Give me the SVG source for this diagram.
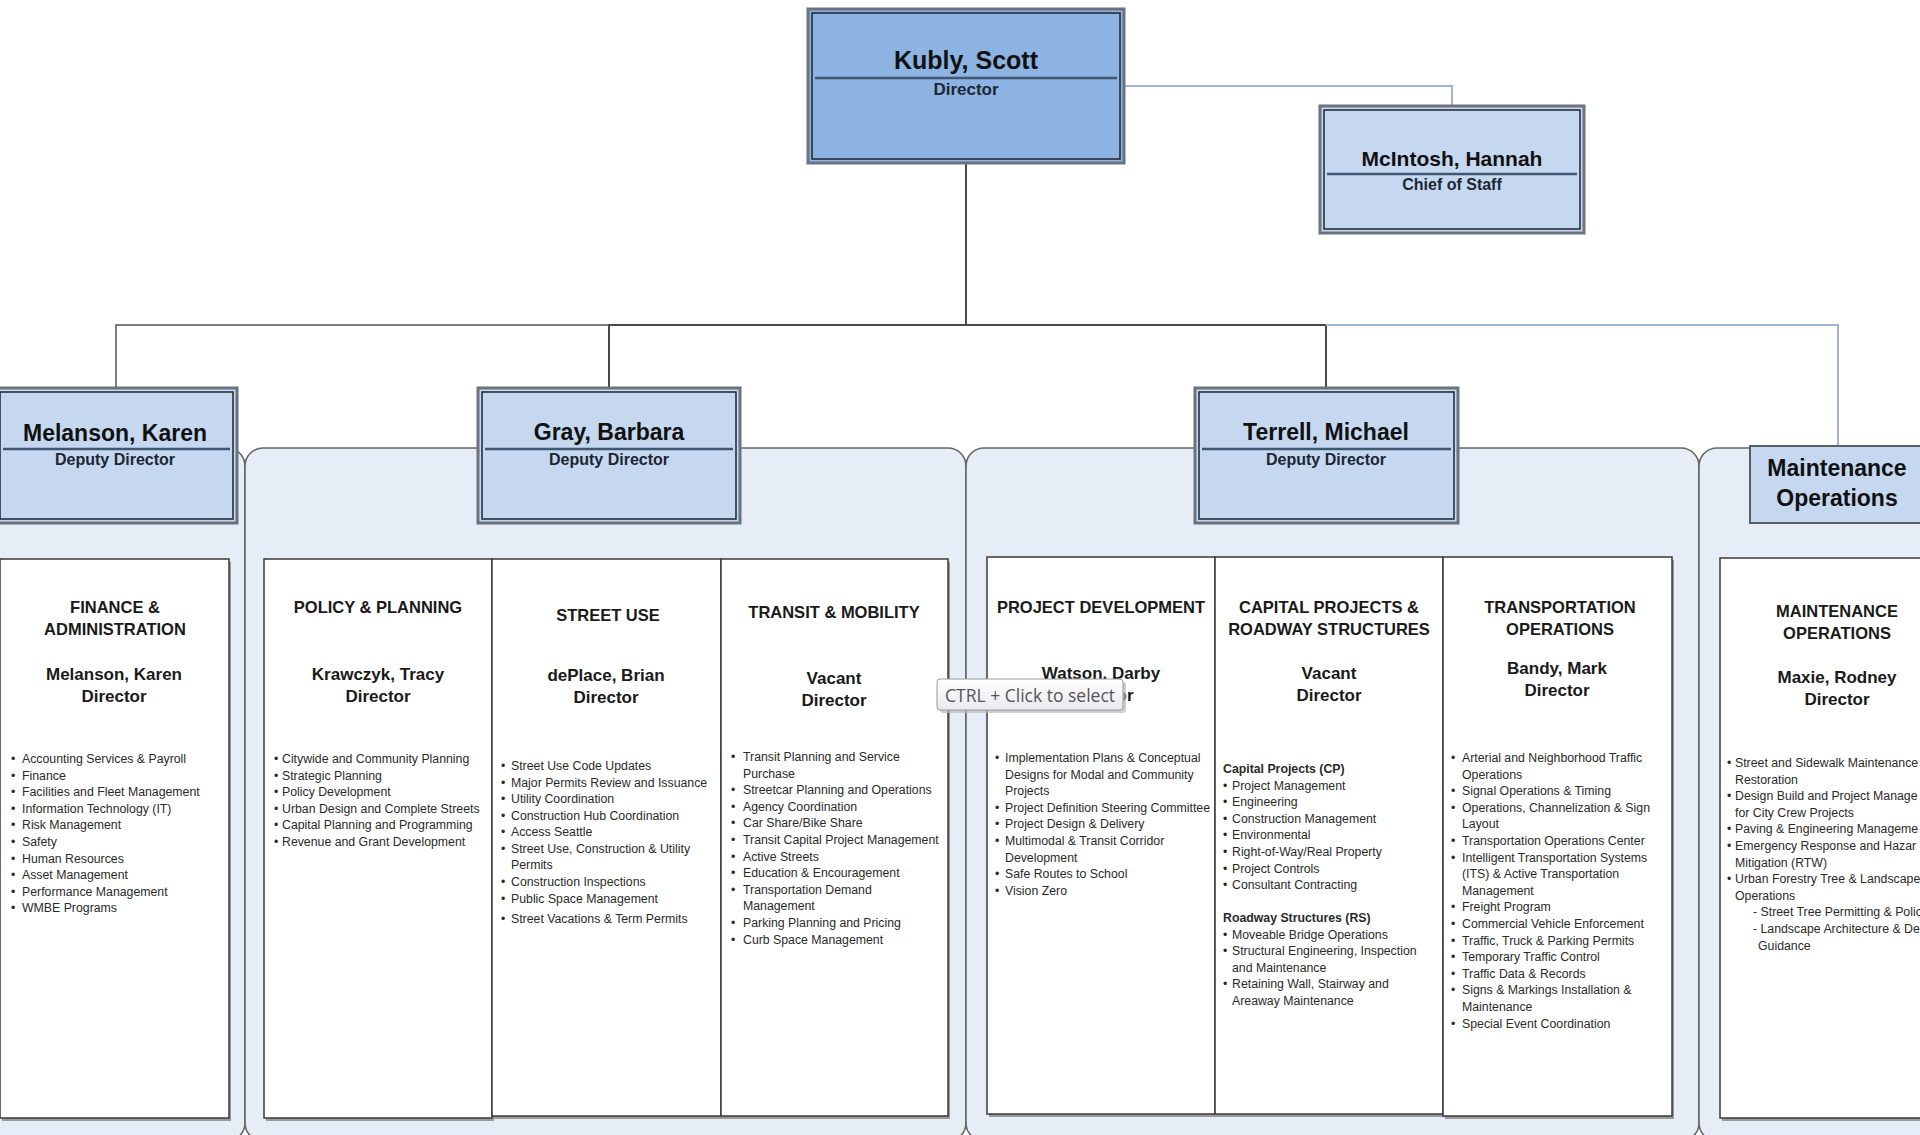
<svg xmlns="http://www.w3.org/2000/svg" width="1920" height="1135" viewBox="0 0 1920 1135">
<defs>
<style>
.bg{fill:#ffffff}
.panel{fill:#e7edf7;stroke:#676767;stroke-width:1.6}
.outer{stroke:#6b737e;stroke-width:3}
.inner{fill:none;stroke:#1b2431;stroke-width:1.5}
.dark{fill:#8db3e2}
.light{fill:#c5d8f0}
.divl{stroke:#40586f;stroke-width:2.5}
.nm{font-family:"Liberation Sans",Arial,sans-serif;font-weight:bold;font-size:23px;fill:#111;text-anchor:middle}
.sub{font-family:"Liberation Sans",Arial,sans-serif;font-weight:bold;font-size:16px;fill:#1c2633;text-anchor:middle}
.wb{fill:#ffffff;stroke:#3a3a3a;stroke-width:1.5}
.sh{fill:#9a9a9a}
.hd{font-family:"Liberation Sans",Arial,sans-serif;font-weight:bold;font-size:16.5px;fill:#1a1a1a;text-anchor:middle}
.dn{font-family:"Liberation Sans",Arial,sans-serif;font-weight:bold;font-size:17px;fill:#1a1a1a;text-anchor:middle}
.bl{font-family:"Liberation Sans",Arial,sans-serif;font-size:12.3px;fill:#2a2a2a}
.blb{font-family:"Liberation Sans",Arial,sans-serif;font-size:12.3px;font-weight:bold;fill:#2a2a2a}
.c-dark{fill:none;stroke:#4a4a4a;stroke-width:2}
.c-gray{fill:none;stroke:#7d7d7d;stroke-width:2}
.c-light{fill:none;stroke:#9fb5cb;stroke-width:2}
</style>
<linearGradient id="tipg" x1="0" y1="0" x2="0" y2="1">
<stop offset="0" stop-color="#ffffff"/>
<stop offset="1" stop-color="#e9e9ef"/>
</linearGradient>
</defs>
<rect class="bg" x="0" y="0" width="1920" height="1135"/>

<g id="panels">
<rect class="panel" x="-40" y="448" width="285" height="693" rx="18"/>
<rect class="panel" x="245" y="448" width="721" height="693" rx="18"/>
<rect class="panel" x="966" y="448" width="733" height="693" rx="18"/>
<rect class="panel" x="1699" y="448" width="280" height="693" rx="18"/>
</g>

<g id="connectors">
<path class="c-light" d="M1124,86 H1452 V106"/>
<path class="c-dark" d="M966,163 V325"/>
<path class="c-gray" d="M116,388 V325 H609"/>
<path class="c-dark" d="M609,388 V325 H1326 V388"/>
<path class="c-light" d="M1326,325 H1838 V446"/>
</g>

<g id="node-kubly">
<rect class="dark outer" x="808" y="9" width="316" height="154"/>
<rect class="inner" x="812" y="13" width="308" height="146"/>
<text class="nm" x="966" y="69" style="font-size:25px">Kubly, Scott</text>
<line class="divl" x1="815" y1="78" x2="1117" y2="78"/>
<text class="sub" x="966" y="95" style="font-size:17px">Director</text>
</g>

<g id="node-mcintosh">
<rect class="light outer" x="1320" y="106" width="264" height="127"/>
<rect class="inner" x="1324" y="110" width="256" height="119"/>
<text class="nm" x="1452" y="166" style="font-size:21px">McIntosh, Hannah</text>
<line class="divl" x1="1327" y1="174" x2="1577" y2="174"/>
<text class="sub" x="1452" y="190">Chief of Staff</text>
</g>

<g id="node-melanson">
<rect class="light outer" x="-4" y="388" width="241" height="135"/>
<rect class="inner" x="0" y="392" width="233" height="127"/>
<text class="nm" x="115" y="441">Melanson, Karen</text>
<line class="divl" x1="3" y1="449" x2="230" y2="449"/>
<text class="sub" x="115" y="465">Deputy Director</text>
</g>

<g id="node-gray">
<rect class="light outer" x="478" y="388" width="262" height="135"/>
<rect class="inner" x="482" y="392" width="254" height="127"/>
<text class="nm" x="609" y="440">Gray, Barbara</text>
<line class="divl" x1="485" y1="449" x2="733" y2="449"/>
<text class="sub" x="609" y="465">Deputy Director</text>
</g>

<g id="node-terrell">
<rect class="light outer" x="1195" y="388" width="263" height="135"/>
<rect class="inner" x="1199" y="392" width="255" height="127"/>
<text class="nm" x="1326" y="440">Terrell, Michael</text>
<line class="divl" x1="1202" y1="449" x2="1451" y2="449"/>
<text class="sub" x="1326" y="465">Deputy Director</text>
</g>

<g id="node-maintenance">
<rect class="light" x="1750" y="446" width="200" height="77" style="stroke:#5a5f66;stroke-width:2"/>
<text class="nm" x="1837" y="476">Maintenance</text>
<text class="nm" x="1837" y="506">Operations</text>
</g>

<g id="div-finance">
<rect class="sh" x="2" y="562" width="229" height="559"/>
<rect class="wb" x="0" y="559" width="229" height="559"/>
<text class="hd" x="115" y="613">FINANCE &amp;</text>
<text class="hd" x="115" y="635">ADMINISTRATION</text>
<text class="dn" x="114" y="680">Melanson, Karen</text>
<text class="dn" x="114" y="702">Director</text>
<text class="bl"><tspan x="11" y="763">•</tspan><tspan x="11" y="779.6">•</tspan><tspan x="11" y="796.2">•</tspan><tspan x="11" y="812.8">•</tspan><tspan x="11" y="829.4">•</tspan><tspan x="11" y="846">•</tspan><tspan x="11" y="862.6">•</tspan><tspan x="11" y="879.2">•</tspan><tspan x="11" y="895.8">•</tspan><tspan x="11" y="912.4">•</tspan></text>
<text class="bl"><tspan x="22" y="763">Accounting Services &amp; Payroll</tspan><tspan x="22" y="779.6">Finance</tspan><tspan x="22" y="796.2">Facilities and Fleet Management</tspan><tspan x="22" y="812.8">Information Technology (IT)</tspan><tspan x="22" y="829.4">Risk Management</tspan><tspan x="22" y="846">Safety</tspan><tspan x="22" y="862.6">Human Resources</tspan><tspan x="22" y="879.2">Asset Management</tspan><tspan x="22" y="895.8">Performance Management</tspan><tspan x="22" y="912.4">WMBE Programs</tspan></text>
</g>

<g id="div-policy">
<rect class="sh" x="266" y="562" width="228" height="559"/>
<rect class="wb" x="264" y="559" width="228" height="559"/>
<text class="hd" x="378" y="613">POLICY &amp; PLANNING</text>
<text class="dn" x="378" y="680">Krawczyk, Tracy</text>
<text class="dn" x="378" y="702">Director</text>
<text class="bl"><tspan x="274" y="763">•</tspan><tspan x="274" y="779.6">•</tspan><tspan x="274" y="796.2">•</tspan><tspan x="274" y="812.8">•</tspan><tspan x="274" y="829.4">•</tspan><tspan x="274" y="846">•</tspan></text>
<text class="bl"><tspan x="282" y="763">Citywide and Community Planning</tspan><tspan x="282" y="779.6">Strategic Planning</tspan><tspan x="282" y="796.2">Policy Development</tspan><tspan x="282" y="812.8">Urban Design and Complete Streets</tspan><tspan x="282" y="829.4">Capital Planning and Programming</tspan><tspan x="282" y="846">Revenue and Grant Development</tspan></text>
</g>

<g id="div-streetuse">
<rect class="sh" x="494" y="562" width="229" height="557"/>
<rect class="wb" x="492" y="559" width="229" height="557"/>
<text class="hd" x="608" y="621">STREET USE</text>
<text class="dn" x="606" y="681">dePlace, Brian</text>
<text class="dn" x="606" y="703">Director</text>
<text class="bl"><tspan x="501" y="770">•</tspan><tspan x="501" y="787">•</tspan><tspan x="501" y="803">•</tspan><tspan x="501" y="820">•</tspan><tspan x="501" y="836">•</tspan><tspan x="501" y="853">•</tspan><tspan x="501" y="886">•</tspan><tspan x="501" y="903">•</tspan><tspan x="501" y="923">•</tspan></text>
<text class="bl"><tspan x="511" y="770">Street Use Code Updates</tspan><tspan x="511" y="787">Major Permits Review and Issuance</tspan><tspan x="511" y="803">Utility Coordination</tspan><tspan x="511" y="820">Construction Hub Coordination</tspan><tspan x="511" y="836">Access Seattle</tspan><tspan x="511" y="853">Street Use, Construction &amp; Utility</tspan><tspan x="511" y="869">Permits</tspan><tspan x="511" y="886">Construction Inspections</tspan><tspan x="511" y="903">Public Space Management</tspan><tspan x="511" y="923">Street Vacations &amp; Term Permits</tspan></text>
</g>

<g id="div-transit">
<rect class="sh" x="723" y="562" width="227" height="557"/>
<rect class="wb" x="721" y="559" width="227" height="557"/>
<text class="hd" x="834" y="618">TRANSIT &amp; MOBILITY</text>
<text class="dn" x="834" y="684">Vacant</text>
<text class="dn" x="834" y="706">Director</text>
<text class="bl"><tspan x="731" y="761">•</tspan><tspan x="731" y="794.2">•</tspan><tspan x="731" y="810.8">•</tspan><tspan x="731" y="827.4">•</tspan><tspan x="731" y="844">•</tspan><tspan x="731" y="860.6">•</tspan><tspan x="731" y="877.2">•</tspan><tspan x="731" y="893.8">•</tspan><tspan x="731" y="927">•</tspan><tspan x="731" y="943.6">•</tspan></text>
<text class="bl"><tspan x="743" y="761">Transit Planning and Service</tspan><tspan x="743" y="777.6">Purchase</tspan><tspan x="743" y="794.2">Streetcar Planning and Operations</tspan><tspan x="743" y="810.8">Agency Coordination</tspan><tspan x="743" y="827.4">Car Share/Bike Share</tspan><tspan x="743" y="844">Transit Capital Project Management</tspan><tspan x="743" y="860.6">Active Streets</tspan><tspan x="743" y="877.2">Education &amp; Encouragement</tspan><tspan x="743" y="893.8">Transportation Demand</tspan><tspan x="743" y="910.4">Management</tspan><tspan x="743" y="927">Parking Planning and Pricing</tspan><tspan x="743" y="943.6">Curb Space Management</tspan></text>
</g>

<g id="div-projdev">
<rect class="sh" x="989" y="560" width="228" height="557"/>
<rect class="wb" x="987" y="557" width="228" height="557"/>
<text class="hd" x="1101" y="613">PROJECT DEVELOPMENT</text>
<text class="dn" x="1101" y="679">Watson, Darby</text>
<text class="dn" x="1101" y="701">Director</text>
<text class="bl"><tspan x="995" y="762">•</tspan><tspan x="995" y="811.8">•</tspan><tspan x="995" y="828.4">•</tspan><tspan x="995" y="845">•</tspan><tspan x="995" y="878.2">•</tspan><tspan x="995" y="894.8">•</tspan></text>
<text class="bl"><tspan x="1005" y="762">Implementation Plans &amp; Conceptual</tspan><tspan x="1005" y="778.6">Designs for Modal and Community</tspan><tspan x="1005" y="795.2">Projects</tspan><tspan x="1005" y="811.8">Project Definition Steering Committee</tspan><tspan x="1005" y="828.4">Project Design &amp; Delivery</tspan><tspan x="1005" y="845">Multimodal &amp; Transit Corridor</tspan><tspan x="1005" y="861.6">Development</tspan><tspan x="1005" y="878.2">Safe Routes to School</tspan><tspan x="1005" y="894.8">Vision Zero</tspan></text>
</g>

<g id="div-capital">
<rect class="sh" x="1217" y="560" width="228" height="557"/>
<rect class="wb" x="1215" y="557" width="228" height="557"/>
<text class="hd" x="1329" y="613">CAPITAL PROJECTS &amp;</text>
<text class="hd" x="1329" y="635">ROADWAY STRUCTURES</text>
<text class="dn" x="1329" y="679">Vacant</text>
<text class="dn" x="1329" y="701">Director</text>
<text class="blb" x="1223" y="773">Capital Projects (CP)</text>
<text class="bl"><tspan x="1223" y="789.6">•</tspan><tspan x="1223" y="806.2">•</tspan><tspan x="1223" y="822.8">•</tspan><tspan x="1223" y="839.4">•</tspan><tspan x="1223" y="856">•</tspan><tspan x="1223" y="872.6">•</tspan><tspan x="1223" y="889.2">•</tspan></text>
<text class="bl"><tspan x="1232" y="789.6">Project Management</tspan><tspan x="1232" y="806.2">Engineering</tspan><tspan x="1232" y="822.8">Construction Management</tspan><tspan x="1232" y="839.4">Environmental</tspan><tspan x="1232" y="856">Right-of-Way/Real Property</tspan><tspan x="1232" y="872.6">Project Controls</tspan><tspan x="1232" y="889.2">Consultant Contracting</tspan></text>
<text class="blb" x="1223" y="922">Roadway Structures (RS)</text>
<text class="bl"><tspan x="1223" y="938.5">•</tspan><tspan x="1223" y="955">•</tspan><tspan x="1223" y="988.2">•</tspan></text>
<text class="bl"><tspan x="1232" y="938.5">Moveable Bridge Operations</tspan><tspan x="1232" y="955">Structural Engineering, Inspection</tspan><tspan x="1232" y="971.6">and Maintenance</tspan><tspan x="1232" y="988.2">Retaining Wall, Stairway and</tspan><tspan x="1232" y="1004.8">Areaway Maintenance</tspan></text>
</g>

<g id="div-transops">
<rect class="sh" x="1445" y="560" width="229" height="559"/>
<rect class="wb" x="1443" y="557" width="229" height="559"/>
<text class="hd" x="1560" y="613">TRANSPORTATION</text>
<text class="hd" x="1560" y="635">OPERATIONS</text>
<text class="dn" x="1557" y="674">Bandy, Mark</text>
<text class="dn" x="1557" y="696">Director</text>
<text class="bl"><tspan x="1451" y="762">•</tspan><tspan x="1451" y="795.2">•</tspan><tspan x="1451" y="811.8">•</tspan><tspan x="1451" y="845">•</tspan><tspan x="1451" y="861.6">•</tspan><tspan x="1451" y="911.4">•</tspan><tspan x="1451" y="928">•</tspan><tspan x="1451" y="944.6">•</tspan><tspan x="1451" y="961.2">•</tspan><tspan x="1451" y="977.8">•</tspan><tspan x="1451" y="994.4">•</tspan><tspan x="1451" y="1027.6">•</tspan></text>
<text class="bl"><tspan x="1462" y="762">Arterial and Neighborhood Traffic</tspan><tspan x="1462" y="778.6">Operations</tspan><tspan x="1462" y="795.2">Signal Operations &amp; Timing</tspan><tspan x="1462" y="811.8">Operations, Channelization &amp; Sign</tspan><tspan x="1462" y="828.4">Layout</tspan><tspan x="1462" y="845">Transportation Operations Center</tspan><tspan x="1462" y="861.6">Intelligent Transportation Systems</tspan><tspan x="1462" y="878.2">(ITS) &amp; Active Transportation</tspan><tspan x="1462" y="894.8">Management</tspan><tspan x="1462" y="911.4">Freight Program</tspan><tspan x="1462" y="928">Commercial Vehicle Enforcement</tspan><tspan x="1462" y="944.6">Traffic, Truck &amp; Parking Permits</tspan><tspan x="1462" y="961.2">Temporary Traffic Control</tspan><tspan x="1462" y="977.8">Traffic Data &amp; Records</tspan><tspan x="1462" y="994.4">Signs &amp; Markings Installation &amp;</tspan><tspan x="1462" y="1011">Maintenance</tspan><tspan x="1462" y="1027.6">Special Event Coordination</tspan></text>
</g>

<g id="div-maintops">
<rect class="sh" x="1722" y="561" width="230" height="560"/>
<rect class="wb" x="1720" y="558" width="230" height="560"/>
<text class="hd" x="1837" y="617">MAINTENANCE</text>
<text class="hd" x="1837" y="639">OPERATIONS</text>
<text class="dn" x="1837" y="683">Maxie, Rodney</text>
<text class="dn" x="1837" y="705">Director</text>
<text class="bl"><tspan x="1727" y="767">•</tspan><tspan x="1727" y="800.2">•</tspan><tspan x="1727" y="833.4">•</tspan><tspan x="1727" y="850">•</tspan><tspan x="1727" y="883.2">•</tspan></text>
<text class="bl"><tspan x="1735" y="767">Street and Sidewalk Maintenance</tspan><tspan x="1735" y="783.6">Restoration</tspan><tspan x="1735" y="800.2">Design Build and Project Manage</tspan><tspan x="1735" y="816.8">for City Crew Projects</tspan><tspan x="1735" y="833.4">Paving &amp; Engineering Manageme</tspan><tspan x="1735" y="850">Emergency Response and Hazar</tspan><tspan x="1735" y="866.6">Mitigation (RTW)</tspan><tspan x="1735" y="883.2">Urban Forestry Tree &amp; Landscape</tspan><tspan x="1735" y="899.8">Operations</tspan><tspan x="1753" y="916.4">- Street Tree Permitting &amp; Polic</tspan><tspan x="1753" y="933">- Landscape Architecture &amp; Des</tspan><tspan x="1758" y="949.6">Guidance</tspan></text>
</g>

<g id="tooltip">
<rect x="940" y="682" width="186" height="31" rx="3" fill="#b8b8b8" opacity="0.7"/>
<rect x="937" y="679" width="186" height="31" rx="3" fill="url(#tipg)" stroke="#9a9a9a" stroke-width="1"/>
<text x="945" y="702" style="font-family:'Open Sans','Noto Sans',sans-serif;font-size:17.5px;fill:#555">CTRL + Click to select</text>
</g>
</svg>
